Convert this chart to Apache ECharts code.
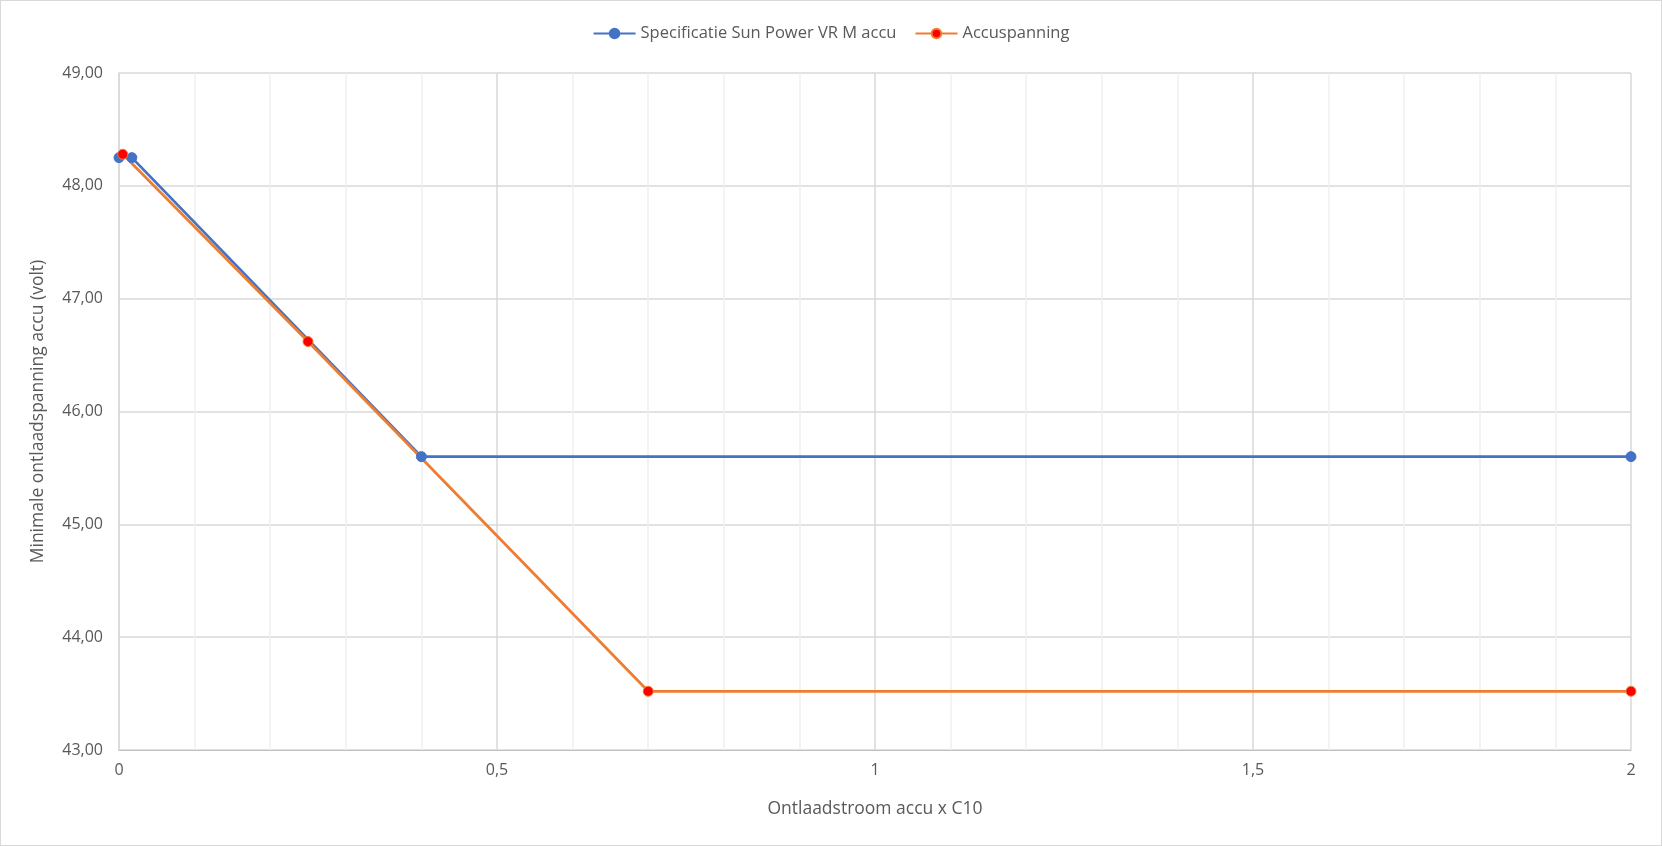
<!DOCTYPE html>
<html><head><meta charset="utf-8">
<script src="https://cdn.jsdelivr.net/npm/echarts@6/dist/echarts.min.js"></script>
<style>
html,body{margin:0;padding:0;background:#fff;}
#c{width:1662px;height:846px;box-sizing:border-box;border:1px solid #d9d9d9;}
</style></head><body>
<div id="c"></div>
<script>
const seriesNames = ['Specificatie Sun Power VR M accu', 'Accuspanning'];
const specX = [0, 0.017, 0.4, 2];
const specY = [48.25, 48.25, 45.6, 45.6];
const accuX = [0.005, 0.25, 0.7, 2];
const accuY = [48.28, 46.62, 43.52, 43.52];
const xTitle = 'Ontlaadstroom accu x C10';
const yTitle = 'Minimale ontlaadspanning accu (volt)';

const font = 'Open Sans, Liberation Sans, sans-serif';
const chart = echarts.init(document.getElementById('c'));
chart.setOption({
  animation: false,
  textStyle: {fontFamily: font},
  legend: {
    top: 19, left: 'center', itemWidth: 42, itemHeight: 12, itemGap: 18,
    textStyle: {color: '#595959', fontSize: 16.5, fontFamily: font},
    data: seriesNames
  },
  grid: {left: 118, right: 30, top: 72, bottom: 95, containLabel: false},
  xAxis: {
    type: 'value', min: 0, max: 2, interval: 0.5,
    name: xTitle, nameLocation: 'middle', nameGap: 50,
    nameTextStyle: {color: '#595959', fontSize: 17.5},
    axisLine: {show: true, lineStyle: {color: '#bfbfbf', width: 1}},
    axisTick: {show: false},
    axisLabel: {color: '#595959', fontSize: 16, margin: 12,
      formatter: v => String(v).replace('.', ',')},
    splitLine: {show: true, lineStyle: {color: '#d9d9d9', width: 1.5}},
    minorTick: {show: false, splitNumber: 5},
    minorSplitLine: {show: true, lineStyle: {color: '#efefef', width: 1.5}}
  },
  yAxis: {
    type: 'value', min: 43, max: 49, interval: 1,
    name: yTitle, nameLocation: 'middle', nameGap: 72, nameRotate: 90,
    nameTextStyle: {color: '#595959', fontSize: 17.5},
    axisLine: {show: true, lineStyle: {color: '#d9d9d9', width: 1.5}},
    axisTick: {show: false},
    axisLabel: {color: '#595959', fontSize: 16, margin: 16,
      formatter: v => v.toFixed(2).replace('.', ',')},
    splitLine: {show: true, lineStyle: {color: '#d9d9d9', width: 1.5}}
  },
  series: [
    {
      name: seriesNames[0], type: 'line',
      data: specX.map((x, i) => [x, specY[i]]),
      symbol: 'circle', symbolSize: 10,
      lineStyle: {color: '#4472C4', width: 2.75},
      itemStyle: {color: '#4472C4', borderColor: '#4472C4', borderWidth: 1}
    },
    {
      name: seriesNames[1], type: 'line',
      data: accuX.map((x, i) => [x, accuY[i]]),
      symbol: 'circle', symbolSize: 10,
      lineStyle: {color: '#ED7D31', width: 2.75},
      itemStyle: {color: '#FF0000', borderColor: '#ED7D31', borderWidth: 1}
    }
  ]
});
</script>
</body></html>
